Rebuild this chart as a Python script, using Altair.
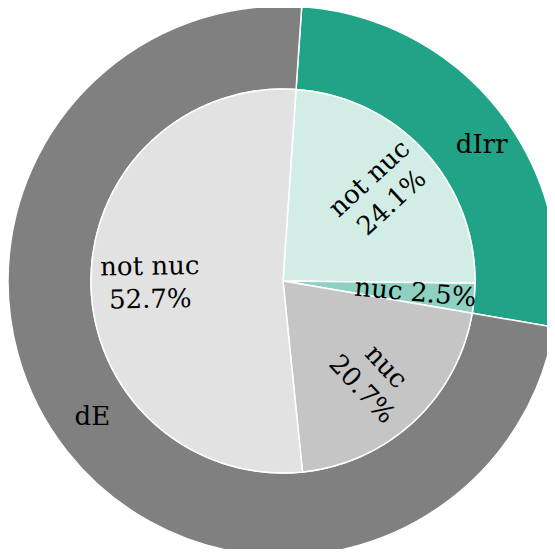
import math
import altair as alt
import pandas as pd

# ---- data ----
outer_groups = ["dIrr", "dE"]
outer_values = [26.6, 73.4]

inner_groups = ["dIrr", "dIrr", "dE", "dE"]
inner_kinds = ["not nuc", "nuc", "nuc", "not nuc"]
inner_values = [24.1, 2.5, 20.7, 52.7]

# ---- layout / style ----
START_DEG = 3.9
CX, CY = 275, 273
R_OUT, R_IN = 275, 192
R_LAB_OUT, R_LAB_IN = 220, 133
FONT = "DejaVu Serif"
FS = 26
LH = 33

color_domain = ["dIrr", "dE", "dIrr not nuc", "dIrr nuc", "dE nuc", "dE not nuc"]
color_range = ["#20a386", "#808080", "#d2ece6", "#8fd1c0", "#c5c5c5", "#e2e2e2"]

outer_df = pd.DataFrame({
    "group": outer_groups,
    "value": outer_values,
    "order": list(range(len(outer_groups))),
})
outer_df["key"] = outer_df["group"]

inner_df = pd.DataFrame({
    "group": inner_groups,
    "kind": inner_kinds,
    "value": inner_values,
    "order": list(range(len(inner_groups))),
})
inner_df["key"] = inner_df["group"] + " " + inner_df["kind"]
inner_df["label"] = [
    k + ("\n" if v >= 5 else " ") + f"{v}%" for k, v in zip(inner_kinds, inner_values)
]

start_rad = math.radians(START_DEG)
theta_scale = alt.Scale(domain=[0, 100], range=[start_rad, start_rad + 2 * math.pi])
color_scale = alt.Scale(domain=color_domain, range=color_range)


def base(df):
    return (
        alt.Chart(df)
        .transform_window(cum="sum(value)", sort=[alt.SortField("order")], frame=[None, 0])
        .transform_calculate(
            start="datum.cum - datum.value",
            mid="datum.cum - datum.value / 2",
        )
    )


outer_arc = base(outer_df).mark_arc(
    radius=R_OUT, radius2=R_IN, stroke="white", strokeWidth=1.5
).encode(
    theta=alt.Theta("start:Q", scale=theta_scale, stack=False),
    theta2="cum:Q",
    color=alt.Color("key:N", scale=color_scale, legend=None),
    x=alt.value(CX),
    y=alt.value(CY),
)

inner_arc = base(inner_df).mark_arc(
    radius=R_IN, stroke="white", strokeWidth=1.5
).encode(
    theta=alt.Theta("start:Q", scale=theta_scale, stack=False),
    theta2="cum:Q",
    color=alt.Color("key:N", scale=color_scale, legend=None),
    x=alt.value(CX),
    y=alt.value(CY),
)

side_expr = f"({START_DEG} + datum.mid * 3.6) < 180"

outer_text_right = base(outer_df).transform_filter(side_expr).mark_text(
    radius=R_LAB_OUT, align="left", baseline="middle", font=FONT, fontSize=FS, color="black"
).encode(
    theta=alt.Theta("mid:Q", scale=theta_scale, stack=False),
    text="group:N",
    x=alt.value(CX),
    y=alt.value(CY),
)

outer_text_left = base(outer_df).transform_filter(f"!({side_expr})").mark_text(
    radius=R_LAB_OUT, align="right", baseline="middle", font=FONT, fontSize=FS, color="black"
).encode(
    theta=alt.Theta("mid:Q", scale=theta_scale, stack=False),
    text="group:N",
    x=alt.value(CX),
    y=alt.value(CY),
)


def inner_text(filter_expr, dy):
    return base(inner_df).transform_filter(filter_expr).transform_calculate(
        cw=f"{START_DEG} + datum.mid * 3.6",
    ).transform_calculate(
        a="((datum.cw - 90) % 360 + 360) % 360",
    ).transform_calculate(
        rot="((datum.a > 90 && datum.a < 270) ? datum.a - 180 : datum.a) + 360",
    ).transform_calculate(
        rot2="datum.rot % 360",
    ).mark_text(
        radius=R_LAB_IN, align="center", baseline="middle", font=FONT, fontSize=FS,
        lineHeight=LH, lineBreak="\n", color="black", dy=dy
    ).encode(
        theta=alt.Theta("mid:Q", scale=theta_scale, stack=False),
        text="label:N",
        angle=alt.Angle("rot2:Q", scale=None),
        x=alt.value(CX),
        y=alt.value(CY),
    )


inner_text_multi = inner_text("indexof(datum.label, '\\n') >= 0", -LH / 2)
inner_text_single = inner_text("indexof(datum.label, '\\n') < 0", 0)

chart = (
    alt.layer(outer_arc, inner_arc, outer_text_right, outer_text_left,
              inner_text_multi, inner_text_single)
    .properties(
        width=539, height=541, padding=0, background="white",
        autosize=alt.AutoSizeParams(type="none"),
    )
    .configure_view(stroke=None)
)

chart.save("out.html", embed_options={"renderer": "svg", "actions": False})
